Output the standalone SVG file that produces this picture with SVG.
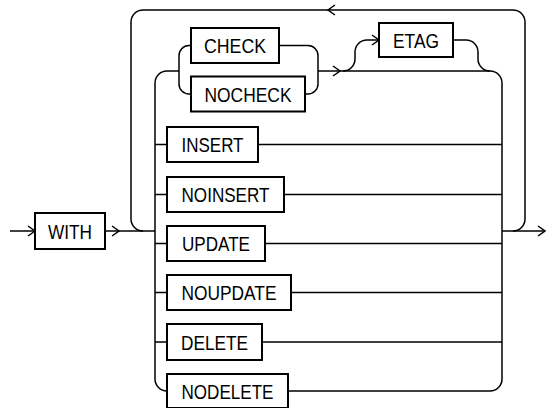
<svg xmlns="http://www.w3.org/2000/svg" xmlns:xlink="http://www.w3.org/1999/xlink" width="546" height="408" viewBox="0 0 546 408">
<style>
.box{fill:#fff;stroke:#000;stroke-width:2}
.ln{fill:none;stroke:#000;stroke-width:1.5}
.ar{fill:none;stroke:#000;stroke-width:1.5}
text{font-family:"Liberation Sans",Arial,sans-serif;font-size:20px;fill:#000;text-anchor:middle}
</style>
<defs>
<path id="ah" class="ar" d="M-7,-5 L0,0 L-7,5"/>
</defs>
<rect width="546" height="408" fill="#fff"/>
<g id="connectors">
<path class="ln" d="M10,231 H35"/>
<path class="ln" d="M105,231 H155"/>
<path class="ln" d="M143,231 A12,12 0 0 1 131,219 V22 A12,12 0 0 1 143,10 H513 A12,12 0 0 1 525,22 V219 A12,12 0 0 1 513,231"/>
<path class="ln" d="M502,231 H545"/>
<path class="ln" d="M179,71 H167 A12,12 0 0 0 155,83 V379 A12,12 0 0 0 167,391"/>
<path class="ln" d="M155,144.5 H167 M155,194.5 H167 M155,243.5 H167 M155,292.5 H167 M155,342 H167"/>
<path class="ln" d="M258,144.5 H502 M284,194.5 H502 M265,243.5 H502 M291,292.5 H502 M262,342 H502"/>
<path class="ln" d="M318,71 H490 A12,12 0 0 1 502,83 V379 A12,12 0 0 1 490,391 H288"/>
<path class="ln" d="M191,45.5 H189 A10,10 0 0 0 179,55.5 V84 A10,10 0 0 0 189,94 H191"/>
<path class="ln" d="M279,45.5 H308 A10,10 0 0 1 318,55.5 V84 A10,10 0 0 1 308,94 H305"/>
<path class="ln" d="M343,71 A12,12 0 0 0 355,59 V52 A12,12 0 0 1 367,40 H379"/>
<path class="ln" d="M453,40 H466 A12,12 0 0 1 478,52 V59 A12,12 0 0 0 490,71"/>
<use xlink:href="#ah" x="35" y="231"/>
<use xlink:href="#ah" x="119" y="231"/>
<use xlink:href="#ah" x="340" y="71"/>
<use xlink:href="#ah" x="379" y="40"/>
<use xlink:href="#ah" x="545" y="231"/>
<use xlink:href="#ah" transform="translate(328,10) rotate(180)"/>
</g>
<g id="n_with"><rect class="box" x="35" y="213" width="70" height="36"/><text x="70" y="238.5" textLength="44" lengthAdjust="spacingAndGlyphs">WITH</text></g>
<g id="n_check"><rect class="box" x="191" y="28" width="88" height="35"/><text x="235" y="53" textLength="62" lengthAdjust="spacingAndGlyphs">CHECK</text></g>
<g id="n_nocheck"><rect class="box" x="191" y="76.5" width="114" height="35"/><text x="248" y="101.5" textLength="87" lengthAdjust="spacingAndGlyphs">NOCHECK</text></g>
<g id="n_etag"><rect class="box" x="379" y="23" width="74" height="34"/><text x="416" y="47.5" textLength="46" lengthAdjust="spacingAndGlyphs">ETAG</text></g>
<g id="n_insert"><rect class="box" x="167" y="127" width="91" height="35"/><text x="212.5" y="152" textLength="62" lengthAdjust="spacingAndGlyphs">INSERT</text></g>
<g id="n_noinsert"><rect class="box" x="167" y="177" width="117" height="35"/><text x="225.5" y="202" textLength="88" lengthAdjust="spacingAndGlyphs">NOINSERT</text></g>
<g id="n_update"><rect class="box" x="167" y="226" width="98" height="35"/><text x="216" y="251" textLength="68" lengthAdjust="spacingAndGlyphs">UPDATE</text></g>
<g id="n_noupdate"><rect class="box" x="167" y="275" width="124" height="35"/><text x="229" y="300" textLength="95" lengthAdjust="spacingAndGlyphs">NOUPDATE</text></g>
<g id="n_delete"><rect class="box" x="167" y="324" width="95" height="36"/><text x="214.5" y="349.5" textLength="67" lengthAdjust="spacingAndGlyphs">DELETE</text></g>
<g id="n_nodelete"><rect class="box" x="167" y="374" width="121" height="34"/><text x="227.5" y="398.5" textLength="92" lengthAdjust="spacingAndGlyphs">NODELETE</text></g>
</svg>
